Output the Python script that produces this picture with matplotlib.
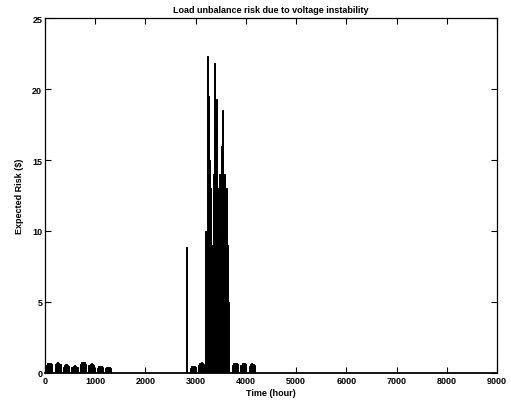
import numpy as np
import matplotlib
matplotlib.use("Agg")
import matplotlib.pyplot as plt

# Daily peak expected risk ($), one row per week (days 0..174), zero afterwards
daily_peak = [
    [0, .55, .68, .70, .68, .60, 0],
    [0, .60, .72, .75, .72, .62, 0],
    [0, .45, .58, .60, .58, .50, 0],
    [0, .42, .52, .55, .52, .45, 0],
    [0, .60, .75, .78, .75, .65, 0],
    [0, .55, .66, .68, .66, .58, 0],
    [0, .38, .47, .50, .47, .40, 0],
    [0, .32, .40, .42, .40, .35, 0],
    [0, .01, .01, .01, .01, .01, 0],
    [0, .01, .01, .01, .01, .01, 0],
    [0, .01, .01, .01, .01, .01, 0],
    [0, .01, .01, .01, .01, .01, 0],
    [0, .01, .01, .01, .01, .01, 0],
    [0, .01, .01, .01, .01, .01, 0],
    [0, .01, .01, .01, .01, .01, 0],
    [0, .01, .01, .01, .01, .01, 0],
    [0, .01, .01, .01, .01, 8.9, 0],
    [0, .38, .48, .50, .48, .40, 0],
    [0, .55, .70, .75, .70, .60, 0],
    [10, 22.3, 19.5, 15, 13, 9, 14],
    [21.8, 17, 19.3, 13, 14, 10, 16],
    [18.5, 14, 12, 13, 9, 5, 0],
    [0, .55, .70, .72, .70, .60, 0],
    [0, .55, .70, .72, .70, .60, 0],
    [0, .50, .65, .68, .65, .55, 0],
]
hours_per_day = 24
xticks = [0, 1000, 2000, 3000, 4000, 5000, 6000, 7000, 8000, 9000]
yticks = [0, 5, 10, 15, 20, 25]
title = "Load unbalance risk due to voltage instability"
xlabel = "Time (hour)"
ylabel = "Expected Risk ($)"

plt.rcParams['font.family'] = ['Liberation Sans', 'DejaVu Sans']
values = np.array(daily_peak, dtype=float).ravel()
days = np.arange(values.size)

fig = plt.figure(figsize=(5.11, 4.02), dpi=100)
ax = fig.add_axes([0.088, 0.0697, 0.885, 0.883])
ax.bar(days * hours_per_day + hours_per_day / 2, values, width=hours_per_day,
       color='black', edgecolor='black', linewidth=0.7)

ax.set_xlim(0, 9000)
ax.set_ylim(0, 25)
ax.set_xticks(xticks)
ax.set_yticks(yticks)
ax.tick_params(direction='in', length=4, width=0.8, top=True, right=True,
               labelsize=6.5, pad=2)
for lab in ax.get_xticklabels() + ax.get_yticklabels():
    lab.set_fontweight('bold')
for s in ax.spines.values():
    s.set_linewidth(0.9)
ax.spines['bottom'].set_linewidth(1.3)
ax.set_title(title, fontsize=6.5, fontweight='bold', pad=4)
ax.set_xlabel(xlabel, fontsize=6.5, fontweight='bold', labelpad=2)
ax.set_ylabel(ylabel, fontsize=6.5, fontweight='bold', labelpad=6)

fig.savefig("out.png", dpi=100)
